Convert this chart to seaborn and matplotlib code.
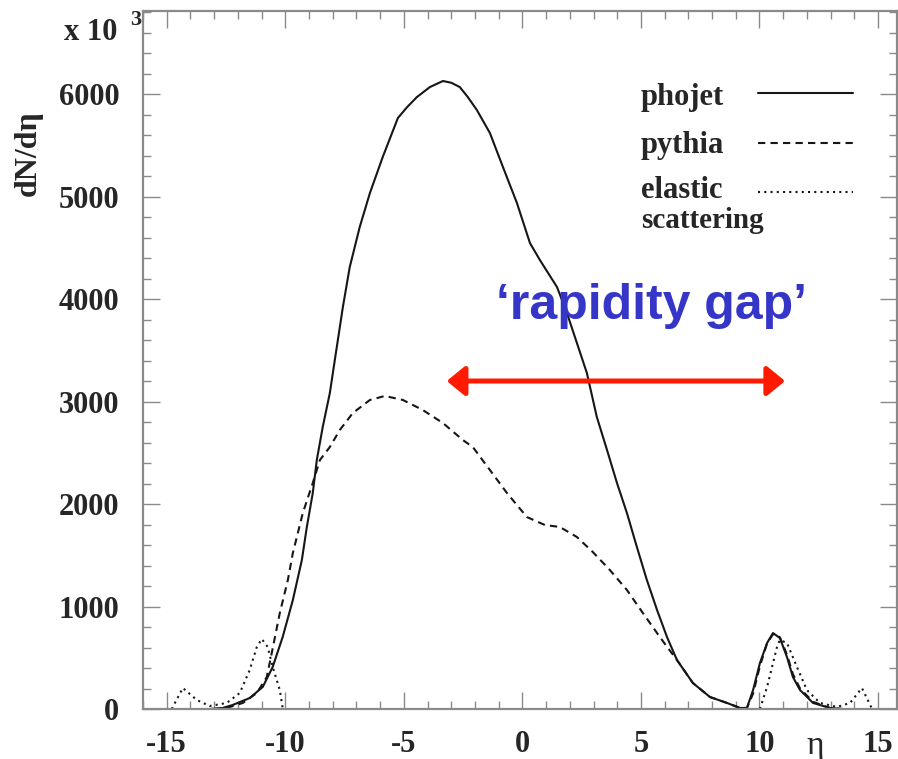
import matplotlib
matplotlib.use("Agg")
import matplotlib.pyplot as plt
from matplotlib.ticker import MultipleLocator
import pandas as pd
import seaborn as sns

# ── data (eta, dN/deta) ────────────────────────────────────────────────────
phojet_eta = [-13.2, -12.64, -12.22, -11.50, -10.95, -10.53, -10.11, -9.68,
              -9.30, -9.09, -8.84, -8.67, -8.42, -8.12, -7.91, -7.57, -7.28,
              -6.86, -6.43, -5.89, -5.25, -4.87, -4.45, -3.90, -3.35, -3.0,
              -2.64, -2.3, -1.92, -1.37, -0.82, -0.23, 0.32, 0.74, 1.46, 1.88,
              2.30, 2.72, 3.14, 3.57, 3.99, 4.41, 4.83, 5.25, 5.68, 6.10,
              6.52, 7.19, 7.91, 8.63, 9.18, 9.47, 9.73, 10.02, 10.32, 10.57,
              10.86, 11.16, 11.41, 11.71, 12.26, 12.97, 13.5]
phojet_dndeta = [0, 10, 39, 107, 215, 410, 702, 1063, 1454, 1776, 2107, 2429,
                 2751, 3083, 3405, 3922, 4312, 4702, 5034, 5385, 5766, 5870,
                 5970, 6068, 6127, 6110, 6068, 5970, 5844, 5620, 5288, 4937,
                 4546, 4380, 4117, 3863, 3571, 3278, 2849, 2527, 2205, 1912,
                 1580, 1259, 966, 702, 478, 254, 117, 59, 10, 10, 185, 449,
                 644, 741, 693, 507, 312, 185, 59, 10, 0]

pythia_eta = [-13.0, -12.47, -11.79, -11.20, -10.78, -10.57, -10.23, -9.89,
              -9.68, -9.26, -8.84, -8.54, -8.12, -7.70, -7.15, -6.43, -5.80,
              -5.04, -4.20, -3.35, -2.51, -2.09, -1.37, -0.65, 0.19, 0.95,
              1.58, 2.30, 2.97, 3.69, 4.41, 5.08, 5.80, 6.22, 6.52, 7.19,
              7.91, 8.63, 9.18, 9.47, 9.73, 10.02, 10.32, 10.57, 10.86, 11.16,
              11.41, 11.71, 12.26, 12.97, 13.5]
pythia_dndeta = [0, 10, 59, 156, 312, 546, 937, 1259, 1522, 1912, 2205, 2429,
                 2556, 2722, 2888, 3015, 3054, 3015, 2917, 2790, 2624, 2556,
                 2332, 2107, 1873, 1795, 1776, 1678, 1532, 1356, 1161, 937,
                 702, 570, 478, 254, 117, 59, 10, 10, 150, 420, 640, 730, 700,
                 530, 340, 200, 70, 10, 0]

elastic_eta = [-14.79, -14.32, -13.73, -13.19, -12.47, -11.92, -11.50, -11.20,
               -10.99, -10.74, -10.53, -10.23, -10.11,
               10.02, 10.32, 10.74, 10.86, 11.16, 11.58, 12.00, 12.55, 13.27,
               13.82, 14.32, 14.75]
elastic_dndeta = [0, 205, 88, 29, 59, 156, 380, 605, 683, 605, 410, 185, 10,
                  0, 215, 605, 673, 644, 410, 185, 59, 20, 59, 205, 0]
elastic_side = ["backward"] * 13 + ["forward"] * 12

gap_from, gap_to, gap_level = -3.19, 11.08, 3200

df_phojet = pd.DataFrame({"eta": phojet_eta, "dndeta": phojet_dndeta})
df_pythia = pd.DataFrame({"eta": pythia_eta, "dndeta": pythia_dndeta})
df_elastic = pd.DataFrame({"eta": elastic_eta, "dndeta": elastic_dndeta,
                           "side": elastic_side})

# ── style ───────────────────────────────────────────────────────────────────
sns.set_theme(style="ticks")
plt.rcParams["font.family"] = ["Liberation Serif", "DejaVu Serif"]
plt.rcParams["font.weight"] = "bold"
plt.rcParams["axes.linewidth"] = 1.6
plt.rcParams["axes.edgecolor"] = "#8a8a8a"
plt.rcParams["axes.unicode_minus"] = False

INK = "#161616"
LW = 1.5

fig = plt.figure(figsize=(8.98, 7.59), dpi=100)
ax = fig.add_axes([143 / 898, 50 / 759, 754 / 898, 698 / 759])

sns.lineplot(data=df_phojet, x="eta", y="dndeta", ax=ax, color=INK,
             linewidth=LW, sort=False, estimator=None)
sns.lineplot(data=df_pythia, x="eta", y="dndeta", ax=ax, color=INK,
             linewidth=LW, sort=False, estimator=None, linestyle=(0, (3.5, 2.5)))
sns.lineplot(data=df_elastic, x="eta", y="dndeta", units="side", ax=ax,
             color=INK, linewidth=LW, sort=False, estimator=None,
             linestyle=(0, (1, 2)))

ax.set_xlim(-16, 15.8)
ax.set_ylim(0, 6810)
ax.set_xlabel("")
ax.set_ylabel("")

ax.xaxis.set_major_locator(MultipleLocator(5))
ax.xaxis.set_minor_locator(MultipleLocator(1))
ax.yaxis.set_major_locator(MultipleLocator(1000))
ax.yaxis.set_minor_locator(MultipleLocator(200))
ax.tick_params(which="both", direction="in", top=True, right=True,
               color="#8a8a8a", width=1.0, labelsize=22)
ax.tick_params(which="major", length=12)
ax.tick_params(which="minor", length=6)
ax.tick_params(axis="x", pad=15)
ax.tick_params(axis="y", pad=17)
for lbl in ax.get_xticklabels() + ax.get_yticklabels():
    lbl.set_fontweight("bold")

# axis labels
ax.text(0.891, -0.052, "η", transform=ax.transAxes, fontsize=24,
        fontweight="normal", ha="center", va="center")
fig.text(0.032, 0.798, "dN/dη", rotation=90, fontsize=23,
         ha="center", va="center")
fig.text(0.1303, 0.947, "x 10", fontsize=22, ha="right", va="baseline")
fig.text(0.1448, 0.967, "3", fontsize=16, ha="left", va="baseline")

# legend drawn in the style of the original (label left, sample right)
legend_rows = [("phojet", "-", 0.8653, 0.8825),
               ("pythia", (0, (3.5, 2.5)), 0.7966, 0.8109),
               ("elastic", (0, (1, 2)), 0.7320, 0.7400)]
for name, ls, ytxt, yline in legend_rows:
    ax.text(0.660, ytxt, name, transform=ax.transAxes, fontsize=22,
            ha="left", va="baseline")
    ax.plot([0.816, 0.942], [yline, yline], transform=ax.transAxes,
            color=INK, linewidth=LW, linestyle=ls)
ax.text(0.660, 0.6890, "scattering", transform=ax.transAxes, fontsize=21,
        ha="left", va="baseline")

# rapidity gap annotation
ax.annotate("", xy=(gap_from, gap_level), xytext=(gap_to, gap_level),
            arrowprops=dict(arrowstyle="<|-|>,head_length=0.55,head_width=0.45",
                            color="#ff1a00", lw=3.6, mutation_scale=20,
                            shrinkA=0, shrinkB=0))
ax.text(5.46, 3930, "\u2018rapidity gap\u2019", color="#3535c8", fontsize=36,
        fontweight="bold", family=["Liberation Sans", "DejaVu Sans"],
        ha="center", va="center")

fig.savefig("out.png", dpi=100)
